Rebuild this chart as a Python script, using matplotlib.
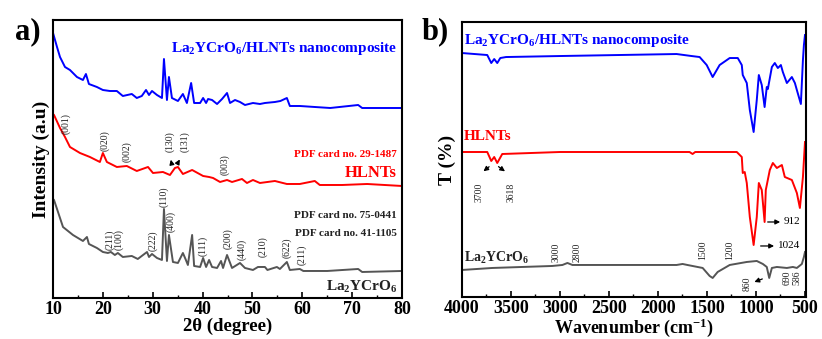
import matplotlib
matplotlib.use('Agg')
import matplotlib.pyplot as plt
from matplotlib.ticker import MultipleLocator
import numpy as np

plt.rcParams['font.family'] = ['Liberation Serif', 'DejaVu Serif']
plt.rcParams['font.weight'] = 'bold'
plt.rcParams['mathtext.fontset'] = 'custom'
plt.rcParams['mathtext.rm'] = 'Liberation Serif:bold'
plt.rcParams['mathtext.it'] = 'Liberation Serif:bold'
plt.rcParams['mathtext.bf'] = 'Liberation Serif:bold'
plt.rcParams['mathtext.default'] = 'rm'

# ---- XRD data (2theta, intensity a.u., curves offset as in the figure)
xrd_comp_t = [10.0, 10.8, 11.4, 12.4, 13.4, 14.8, 16.0, 16.6, 17.2, 18.8, 20.0, 21.4, 22.8, 24.0,
              25.8, 26.8, 27.8, 28.65, 29.25, 29.85, 30.85, 31.85, 32.25, 32.85, 33.25, 33.85,
              35.05, 36.05, 36.85, 37.7, 38.3, 39.5, 40.1, 40.7, 41.1, 41.9, 42.9, 43.9, 44.9,
              45.5, 46.5, 47.5, 48.5, 50.1, 51.5, 52.5, 54.5, 55.6, 56.9, 57.5, 59.5, 62.5,
              65.6, 71.2, 72.0, 75.6, 80.0]
xrd_comp_i = [265, 251, 241, 231, 228, 221, 218, 224, 214, 211, 208, 207, 207, 202,
              204, 200, 202, 208, 203, 207, 203, 200, 239, 198, 221, 200,
              197, 204, 195, 215, 195, 195, 200, 195, 199, 198, 194, 199, 205,
              195, 198, 196, 193, 195, 194, 195, 196, 197, 200, 192, 192, 191,
              190, 193, 190, 190, 190]

xrd_hlnt_t = [10.0, 10.2, 11.4, 12.4, 13.4, 15.4, 17.4, 19.4, 20.0, 20.8, 22.8, 24.8, 26.8,
              29.05, 30.05, 32.05, 33.45, 34.45, 35.05, 36.05, 37.9, 40.1, 41.3, 42.1, 43.5,
              44.9, 45.9, 47.9, 48.9, 50.1, 51.5, 54.5, 56.9, 59.5, 62.5, 63.5, 68.0, 73.0, 80.0]
xrd_hlnt_i = [184, 183, 170, 161, 151, 145, 141, 136, 145, 136, 131, 132, 127,
              131, 125, 126, 123, 130, 131, 124, 128, 122, 121, 120, 116,
              118, 116, 119, 115, 118, 115, 117, 114, 114, 117, 113, 113, 114, 112]

xrd_lyc_t = [10.0, 10.2, 12.0, 14.0, 16.0, 16.8, 17.2, 18.8, 20.0, 21.0, 21.6, 22.4, 23.0,
             24.0, 25.8, 27.0, 28.85, 29.25, 29.85, 30.85, 31.85, 32.25, 32.85, 33.25, 34.05,
             35.05, 36.05, 36.65, 37.05, 37.9, 38.3, 39.5, 40.1, 40.7, 41.3, 41.9, 42.9, 43.7,
             44.1, 44.9, 45.9, 47.5, 48.5, 50.1, 51.1, 52.5, 53.0, 54.9, 55.5, 56.9, 57.5,
             59.5, 60.2, 65.0, 71.2, 72.0, 80.0]
xrd_lyc_i = [99, 98, 71, 63, 57, 61, 54, 50, 46, 45, 46, 43, 45,
             41, 42, 39, 46, 41, 44, 40, 38, 89, 37, 63, 36,
             35, 45, 38, 33, 63, 32, 31, 40, 31, 38, 31, 30, 37,
             30, 43, 30, 35, 30, 28, 31, 31, 28, 31, 29, 36, 28,
             29, 27, 27, 29, 26, 27]

# ---- FTIR data (wavenumber, transmittance a.u., offset)
ir_comp_w = [4000, 3742, 3701, 3671, 3640, 3609, 3550, 3000, 1810, 1657, 1575, 1503, 1442, 1371,
             1268, 1186, 1145, 1135, 1094, 1063, 1024, 992, 971, 941, 912, 890, 879, 838, 808,
             777, 746, 726, 685, 634, 603, 583, 542, 521, 511, 500]
ir_comp_t = [244, 242, 234, 238, 234, 239, 240, 241, 243, 241, 240, 232, 220, 232,
             239, 239, 232, 222, 214, 187, 165, 197, 222, 212, 190, 210, 208, 230, 234,
             229, 232, 225, 214, 220, 214, 207, 193, 237, 252, 262]

ir_hlnt_w = [4000, 3742, 3701, 3671, 3640, 3589, 3000, 1678, 1647, 1620, 1196, 1145, 1135, 1115,
             1094, 1063, 1024, 992, 971, 941, 912, 900, 859, 828, 787, 736, 706, 634, 583,
             552, 521, 500]
ir_hlnt_t = [145, 145, 136, 140, 134, 143, 145, 145, 143, 145, 145, 140, 124, 125,
             114, 80, 52, 80, 114, 107, 75, 107, 127, 134, 129, 132, 120, 117, 104,
             89, 120, 155]

ir_lyc_w = [4000, 3691, 3078, 2975, 2924, 2873, 1810, 1749, 1700, 1544, 1473, 1442, 1391, 1268,
            1094, 992, 930, 890, 865, 838, 787, 685, 624, 583, 532, 511, 500]
ir_lyc_t = [27, 29, 31, 32, 34, 32, 32, 33, 32, 29, 21, 19, 25, 32,
            35, 36, 33, 30, 19, 29, 30, 29, 30, 29, 33, 40, 45]

# Miller index labels (2theta, y)
hlnt_hkl = ['(001)', '(020)', '(002)', '(130)', '(131)', '(003)']
hlnt_hkl_t = [12.6, 20.4, 24.8, 33.5, 36.5, 44.5]
hlnt_hkl_y = [174, 157, 146, 156, 156, 133]
lyc_hkl = ['(211)', '(100)', '(222)', '(110)', '(400)', '(111)', '(200)', '(440)', '(210)', '(622)', '(211)']
lyc_hkl_t = [21.4, 23.2, 30.1, 32.3, 33.7, 40.1, 45.1, 47.9, 52.1, 56.9, 60.0]
lyc_hkl_y = [58, 58, 57, 101, 76, 52, 59, 49, 51, 50, 43]

# FTIR band labels
lyc_bands = ['3000', '2800', '1500', '1200']
lyc_bands_w = [3036, 2822, 1544, 1268]
lyc_bands_y = [45, 45, 47, 47]

BLUE = '#0000ff'
RED = '#ff0000'
GRAY = '#555555'
LYC = 'La$_{2}$YCrO$_{6}$'
SMALL = dict(fontsize=7, fontweight='normal', color='#222222', ha='center', va='center')

fig = plt.figure(figsize=(8.22, 3.39), dpi=100)
ax1 = fig.add_axes([0.0645, 0.121, 0.4246, 0.820])
ax2 = fig.add_axes([0.562, 0.124, 0.4185, 0.811])

# ---------------- a) XRD
ax1.plot(xrd_comp_t, xrd_comp_i, color=BLUE, lw=1.4)
ax1.plot(xrd_hlnt_t, xrd_hlnt_i, color=RED, lw=1.4)
ax1.plot(xrd_lyc_t, xrd_lyc_i, color=GRAY, lw=1.4)
ax1.set_xlim(10, 80)
ax1.set_ylim(0, 278)
ax1.set_yticks([])
ax1.xaxis.set_major_locator(MultipleLocator(10))
ax1.xaxis.set_minor_locator(MultipleLocator(5))
ax1.set_xlabel('2θ (degree)', fontsize=13.5, fontweight='bold', labelpad=0)
ax1.set_ylabel('Intensity (a.u)', fontsize=14, fontweight='bold', labelpad=2)

ax1.text(79, 249, LYC + '/HLNTs nanocomposite', color=BLUE, fontsize=11, ha='right', va='center')
ax1.text(79, 143, 'PDF card no. 29-1487', color=RED, fontsize=8, ha='right', va='center')
ax1.text(79, 125, 'HLNTs', color=RED, fontsize=12, ha='right', va='center')
ax1.text(79, 82, 'PDF card no. 75-0441', color='#222222', fontsize=8, ha='right', va='center')
ax1.text(79, 64, 'PDF card no. 41-1105', color='#222222', fontsize=8, ha='right', va='center')
ax1.text(79, 11, LYC, color='#222222', fontsize=11, ha='right', va='center')

for lab, t, y in zip(hlnt_hkl, hlnt_hkl_t, hlnt_hkl_y):
    ax1.text(t, y, lab, rotation=90, **SMALL)
for lab, t, y in zip(lyc_hkl, lyc_hkl_t, lyc_hkl_y):
    ax1.text(t, y, lab, rotation=90, **SMALL)
ax1.annotate('', xy=(33.5, 141), xytext=(33.9, 132),
             arrowprops=dict(arrowstyle='-|>', color='black', lw=0.9, mutation_scale=7))
ax1.annotate('', xy=(35.7, 141), xytext=(34.7, 132),
             arrowprops=dict(arrowstyle='-|>', color='black', lw=0.9, mutation_scale=7))

# ---------------- b) FTIR
ax2.plot(ir_comp_w, ir_comp_t, color=BLUE, lw=1.4)
ax2.plot(ir_hlnt_w, ir_hlnt_t, color=RED, lw=1.4)
ax2.plot(ir_lyc_w, ir_lyc_t, color=GRAY, lw=1.4)
ax2.set_xlim(4000, 490)
ax2.set_ylim(0, 275)
ax2.set_yticks([])
ax2.xaxis.set_major_locator(MultipleLocator(500))
ax2.xaxis.set_minor_locator(MultipleLocator(250))
ax2.set_xlabel('Wavenumber (cm$^{-1}$)', fontsize=13, fontweight='bold', labelpad=-0.5)
ax2.set_ylabel('T (%)', fontsize=14, fontweight='bold', labelpad=4)

ax2.text(3978, 257, LYC + '/HLNTs nanocomposite', color=BLUE, fontsize=11, ha='left', va='center')
ax2.text(3978, 161, 'HLNTs', color=RED, fontsize=11, ha='left', va='center')
ax2.text(3978, 39, LYC, color='#222222', fontsize=10, ha='left', va='center')

ax2.text(3824, 105, '3700', rotation=90, **SMALL)
ax2.text(3497, 105, '3618', rotation=90, **SMALL)
ax2.annotate('', xy=(3803, 124), xytext=(3701, 132),
             arrowprops=dict(arrowstyle='-|>', color='black', lw=0.9, mutation_scale=7))
ax2.annotate('', xy=(3538, 124), xytext=(3650, 132),
             arrowprops=dict(arrowstyle='-|>', color='black', lw=0.9, mutation_scale=7))
ax2.annotate('', xy=(725, 75), xytext=(909, 75),
             arrowprops=dict(arrowstyle='-|>', color='black', lw=0.9, mutation_scale=7))
ax2.text(714, 75, '912', fontsize=8, fontweight='normal', ha='left', va='center')
ax2.annotate('', xy=(787, 51), xytext=(981, 51),
             arrowprops=dict(arrowstyle='-|>', color='black', lw=0.9, mutation_scale=7))
ax2.text(776, 51, '1024', fontsize=8, fontweight='normal', ha='left', va='center')

for lab, w, y in zip(lyc_bands, lyc_bands_w, lyc_bands_y):
    ax2.text(w, y, lab, rotation=90, **SMALL)
ax2.text(1094, 13, '860', rotation=90, **SMALL)
ax2.annotate('', xy=(1043, 14), xytext=(909, 19),
             arrowprops=dict(arrowstyle='-|>', color='black', lw=0.9, mutation_scale=7))
ax2.text(685, 19, '690', rotation=90, **SMALL)
ax2.text(583, 19, '586', rotation=90, **SMALL)

for ax in (ax1, ax2):
    for s in ax.spines.values():
        s.set_linewidth(1.5)
    ax.tick_params(axis='x', which='major', direction='in', length=4, width=1.2,
                   labelsize=13, pad=2, top=False)
    ax.tick_params(axis='x', which='minor', direction='in', length=2.5, width=1.0, top=False)
    for lab in ax.get_xticklabels():
        lab.set_fontweight('bold')

fig.text(0.034, 0.905, 'a)', fontsize=22, fontweight='bold', ha='center', va='center')
fig.text(0.530, 0.905, 'b)', fontsize=22, fontweight='bold', ha='center', va='center')

fig.savefig('out.png', dpi=100)
